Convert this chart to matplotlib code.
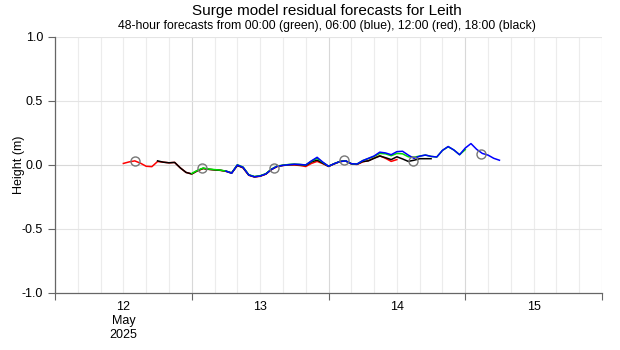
import numpy as np
import pandas as pd
import matplotlib
matplotlib.use("Agg")
import matplotlib.pyplot as plt

plt.rcParams["font.family"] = ["Liberation Sans", "DejaVu Sans"]

START = pd.Timestamp("2025-05-12 00:00")

# residual forecasts, hourly values (m); first hour given per run
red_start = 12   # 12:00 run on 12 May
red_vals = [0.010, 0.022, 0.030, 0.012, -0.012, -0.015, 0.025, 0.020, 0.015, 0.018,
            -0.025, -0.060, -0.072, -0.048, -0.030, -0.036, -0.040, -0.044, -0.052, -0.066,
            -0.005, -0.025, -0.082, -0.096, -0.090, -0.074, -0.038, -0.014, -0.006, -0.002,
            -0.002, -0.006, -0.014, 0.010, 0.026, 0.008, -0.014, 0.006, 0.024, 0.030,
            0.006, 0.002, 0.022, 0.032, 0.052, 0.070, 0.050, 0.026, 0.040]

black_start = 18  # 18:00 run on 12 May
black_vals = [0.030, 0.020, 0.015, 0.018, -0.025, -0.060, -0.072, -0.046, -0.028, -0.036,
              -0.040, -0.043, -0.050, -0.064, -0.006, -0.022, -0.080, -0.094, -0.088, -0.072,
              -0.036, -0.012, -0.005, 0.000, 0.002, 0.000, -0.006, 0.022, 0.036, 0.012,
              -0.012, 0.008, 0.025, 0.030, 0.008, 0.004, 0.025, 0.030, 0.050, 0.068,
              0.055, 0.040, 0.062, 0.045, 0.026, 0.035, 0.047, 0.047, 0.047]

green_start = 24  # 00:00 run on 13 May
green_vals = [-0.068, -0.044, -0.026, -0.034, -0.038, -0.042, -0.050, -0.064, 0.000, -0.018,
              -0.078, -0.092, -0.086, -0.070, -0.034, -0.010, -0.004, 0.002, 0.004, 0.002,
              -0.002, 0.028, 0.050, 0.018, -0.012, 0.008, 0.025, 0.030, 0.008, 0.005,
              0.032, 0.048, 0.065, 0.088, 0.085, 0.070, 0.088, 0.085, 0.062, 0.058,
              0.068, 0.075, 0.065, 0.060, 0.112, 0.140, 0.115, 0.078, 0.118]

blue_start = 30   # 06:00 run on 13 May
blue_vals = [-0.050, -0.066, -0.002, -0.020, -0.080, -0.094, -0.088, -0.072, -0.036, -0.012,
             -0.005, 0.000, 0.004, 0.002, -0.002, 0.030, 0.058, 0.020, -0.012, 0.008,
             0.025, 0.030, 0.008, 0.005, 0.032, 0.050, 0.068, 0.098, 0.092, 0.078,
             0.102, 0.105, 0.075, 0.050, 0.066, 0.076, 0.065, 0.060, 0.112, 0.142,
             0.115, 0.078, 0.130, 0.165, 0.120, 0.088, 0.075, 0.050, 0.035]

# grey circle markers
circle_hours = [14, 25.8, 38.4, 50.8, 62.8, 74.8]
circle_vals = [0.030, -0.026, -0.026, 0.034, 0.030, 0.086]


def times(first, vals):
    return START + pd.to_timedelta(np.arange(len(vals)) + first, unit="h")


fig = plt.figure(figsize=(6.2, 3.5), dpi=100)
ax = fig.add_axes([0.0887, 0.163, 0.8823, 0.7327])

kw = dict(lw=1.1, solid_joinstyle="round")
ax.plot(times(red_start, red_vals), red_vals, color="#ff0000", **kw)
ax.plot(times(black_start, black_vals), black_vals, color="#000000", **kw)
ax.plot(times(green_start, green_vals), green_vals, color="#00dd00", **kw)
ax.plot(times(blue_start, blue_vals), blue_vals, color="#0000ff", **kw)

ct = START + pd.to_timedelta(circle_hours, unit="h")
ax.plot(ct, circle_vals, linestyle="none", marker="o", ms=6.5,
        mfc="none", mec="#777777", mew=1.0)

ax.set_xlim(START, START + pd.Timedelta(days=4))
ax.set_ylim(-1.0, 1.0)

# grid: 4-hourly light lines, a bit darker at midnight
for h in range(0, 97, 4):
    t = START + pd.Timedelta(hours=h)
    c = "#d8d8d8" if h % 24 == 0 else "#ececec"
    ax.axvline(t, color=c, lw=0.8, zorder=0)
for y in [-0.5, 0.0, 0.5, 1.0]:
    ax.axhline(y, color="#e4e4e4" if y != 0 else "#d8d8d8", lw=0.8, zorder=0)

ax.set_yticks([-1.0, -0.5, 0.0, 0.5, 1.0])
ax.set_yticklabels(["-1.0", "-0.5", "0.0", "0.5", "1.0"])

day_ticks = [START + pd.Timedelta(days=d) for d in range(5)]
ax.set_xticks(day_ticks)
ax.set_xticklabels([])
noon = [START + pd.Timedelta(days=d, hours=12) for d in range(4)]
ax.set_xticks(noon, minor=True)
ax.set_xticklabels(["12\nMay\n2025", "13", "14", "15"], minor=True)
ax.tick_params(axis="x", which="minor", length=0, labelsize=9, pad=6)
ax.tick_params(axis="x", which="major", length=5, color="#666666")
ax.tick_params(axis="y", length=5, color="#666666", labelsize=9)

for s in ["top", "right"]:
    ax.spines[s].set_visible(False)
for s in ["left", "bottom"]:
    ax.spines[s].set_color("#666666")
    ax.spines[s].set_linewidth(0.9)

ax.set_ylabel("Height (m)", fontsize=9, labelpad=-2)

fig.text(0.528, 0.970, "Surge model residual forecasts for Leith",
         ha="center", va="center", fontsize=11)
fig.text(0.528, 0.927,
         "48-hour forecasts from 00:00 (green), 06:00 (blue), 12:00 (red), 18:00 (black)",
         ha="center", va="center", fontsize=8.8)

fig.savefig("out.png", dpi=100)
